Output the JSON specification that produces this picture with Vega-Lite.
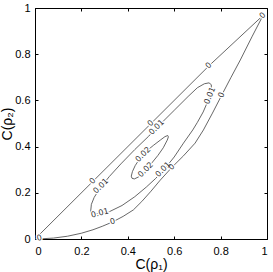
{
  "$schema": "https://vega.github.io/schema/vega-lite/v6.json",
  "width": 232,
  "height": 231,
  "autosize": {"type": "none"},
  "padding": {"left": 35, "top": 8, "right": 6, "bottom": 33},
  "background": "white",
  "config": {
    "view": {"stroke": "black", "strokeWidth": 1},
    "axis": {
      "grid": false,
      "domainColor": "black",
      "tickColor": "black",
      "tickSize": -3,
      "labelFont": "Liberation Sans",
      "labelFontSize": 11,
      "labelColor": "black",
      "titleFont": "Liberation Sans",
      "titleFontSize": 14,
      "titleFontWeight": "normal",
      "titleColor": "black"
    },
    "text": {"font": "DejaVu Sans", "fontSize": 8, "fill": "#333333", "color": "#333333"}
  },
  "datasets": {
    "zero": [
      {"x": 0, "y": 0}, {"x": 0.25, "y": 0.25}, {"x": 0.5, "y": 0.5}, {"x": 0.75, "y": 0.75}, {"x": 0.983, "y": 0.968},
      {"x": 0.935, "y": 0.875}, {"x": 0.885, "y": 0.775}, {"x": 0.845, "y": 0.7}, {"x": 0.805, "y": 0.623},
      {"x": 0.765, "y": 0.545}, {"x": 0.726, "y": 0.472}, {"x": 0.69, "y": 0.415}, {"x": 0.64, "y": 0.36},
      {"x": 0.59, "y": 0.31}, {"x": 0.54, "y": 0.255}, {"x": 0.5, "y": 0.207}, {"x": 0.46, "y": 0.162},
      {"x": 0.424, "y": 0.126}, {"x": 0.38, "y": 0.098}, {"x": 0.335, "y": 0.074}, {"x": 0.29, "y": 0.055},
      {"x": 0.25, "y": 0.04}, {"x": 0.2, "y": 0.025}, {"x": 0.14, "y": 0.012}, {"x": 0.08, "y": 0.004},
      {"x": 0.03, "y": 0.001}, {"x": 0, "y": 0}
    ],
    "c01": [
      {"x": 0.24, "y": 0.12}, {"x": 0.243, "y": 0.15}, {"x": 0.255, "y": 0.18}, {"x": 0.28, "y": 0.22},
      {"x": 0.32, "y": 0.27}, {"x": 0.37, "y": 0.325}, {"x": 0.43, "y": 0.387}, {"x": 0.49, "y": 0.445},
      {"x": 0.54, "y": 0.497}, {"x": 0.6, "y": 0.557}, {"x": 0.66, "y": 0.617}, {"x": 0.7, "y": 0.655},
      {"x": 0.73, "y": 0.672}, {"x": 0.75, "y": 0.676}, {"x": 0.76, "y": 0.668}, {"x": 0.76, "y": 0.65},
      {"x": 0.755, "y": 0.62}, {"x": 0.74, "y": 0.585}, {"x": 0.725, "y": 0.55}, {"x": 0.7, "y": 0.505},
      {"x": 0.68, "y": 0.472}, {"x": 0.64, "y": 0.415}, {"x": 0.6, "y": 0.355}, {"x": 0.56, "y": 0.305},
      {"x": 0.52, "y": 0.262}, {"x": 0.48, "y": 0.225}, {"x": 0.43, "y": 0.183}, {"x": 0.375, "y": 0.145},
      {"x": 0.32, "y": 0.118}, {"x": 0.28, "y": 0.11}, {"x": 0.255, "y": 0.108}, {"x": 0.242, "y": 0.112},
      {"x": 0.24, "y": 0.12}
    ],
    "c02": [
      {"x": 0.415, "y": 0.272}, {"x": 0.42, "y": 0.292}, {"x": 0.432, "y": 0.318}, {"x": 0.453, "y": 0.35},
      {"x": 0.48, "y": 0.38}, {"x": 0.51, "y": 0.405}, {"x": 0.54, "y": 0.428}, {"x": 0.56, "y": 0.443},
      {"x": 0.572, "y": 0.448}, {"x": 0.575, "y": 0.442}, {"x": 0.57, "y": 0.428}, {"x": 0.553, "y": 0.395},
      {"x": 0.53, "y": 0.362}, {"x": 0.5, "y": 0.325}, {"x": 0.47, "y": 0.29}, {"x": 0.445, "y": 0.268},
      {"x": 0.428, "y": 0.26}, {"x": 0.418, "y": 0.263}, {"x": 0.415, "y": 0.272}
    ],
    "labA": [
      {"label": "0", "x": 0.25, "y": 0.25}, {"label": "0", "x": 0.5, "y": 0.5}, {"label": "0", "x": 0.75, "y": 0.75},
      {"label": "0", "x": 0.982, "y": 0.966}, {"label": "0.01", "x": 0.285, "y": 0.228}, {"label": "0.01", "x": 0.525, "y": 0.482},
      {"label": "0.01", "x": 0.553, "y": 0.3}, {"label": "0.02", "x": 0.467, "y": 0.365}, {"label": "0.02", "x": 0.478, "y": 0.299},
      {"label": "0", "x": 0.59, "y": 0.31}
    ],
    "labB": [
      {"label": "0.01", "x": 0.28, "y": 0.11}, {"label": "0", "x": 0.335, "y": 0.074}, {"label": "0", "x": 0.019, "y": 0.003}
    ],
    "labC": [
      {"label": "0.01", "x": 0.755, "y": 0.62}, {"label": "0", "x": 0.805, "y": 0.623}
    ]
  },
  "layer": [
    {
      "data": {"name": "zero"},
      "mark": {"type": "line", "color": "#404040", "strokeWidth": 0.8},
      "encoding": {
        "x": {"field": "x", "type": "quantitative", "scale": {"domain": [0, 1], "nice": false},
              "axis": {"values": [0, 0.2, 0.4, 0.6, 0.8, 1], "format": "~g", "title": "C(ρ₁)", "labelPadding": 9, "titlePadding": 1}},
        "y": {"field": "y", "type": "quantitative", "scale": {"domain": [0, 1], "nice": false},
              "axis": {"values": [0, 0.2, 0.4, 0.6, 0.8, 1], "format": "~g", "title": "C(ρ₂)", "labelPadding": 8, "titlePadding": 0}},
        "order": {"value": null}
      }
    },
    {
      "data": {"name": "c01"},
      "mark": {"type": "line", "color": "#404040", "strokeWidth": 0.8},
      "encoding": {
        "x": {"field": "x", "type": "quantitative", "axis": {"orient": "top", "values": [0, 0.2, 0.4, 0.6, 0.8, 1], "labels": false, "title": null, "domain": false}},
        "y": {"field": "y", "type": "quantitative", "axis": {"orient": "right", "values": [0, 0.2, 0.4, 0.6, 0.8, 1], "labels": false, "title": null, "domain": false}},
        "order": {"value": null}
      }
    },
    {
      "data": {"name": "c02"},
      "mark": {"type": "line", "color": "#404040", "strokeWidth": 0.8},
      "encoding": {
        "x": {"field": "x", "type": "quantitative", "axis": null},
        "y": {"field": "y", "type": "quantitative", "axis": null},
        "order": {"value": null}
      }
    },
    {
      "data": {"name": "labA"},
      "layer": [
        {"mark": {"type": "text", "angle": -45, "stroke": "white", "strokeWidth": 2.5, "fill": "white"}},
        {"mark": {"type": "text", "angle": -45, "fill": "#333333", "stroke": null}}
      ],
      "encoding": {
        "x": {"field": "x", "type": "quantitative", "axis": null},
        "y": {"field": "y", "type": "quantitative", "axis": null},
        "text": {"field": "label"}
      }
    },
    {
      "data": {"name": "labB"},
      "layer": [
        {"mark": {"type": "text", "angle": -15, "stroke": "white", "strokeWidth": 2.5, "fill": "white"}},
        {"mark": {"type": "text", "angle": -15, "fill": "#333333", "stroke": null}}
      ],
      "encoding": {
        "x": {"field": "x", "type": "quantitative", "axis": null},
        "y": {"field": "y", "type": "quantitative", "axis": null},
        "text": {"field": "label"}
      }
    },
    {
      "data": {"name": "labC"},
      "layer": [
        {"mark": {"type": "text", "angle": -68, "stroke": "white", "strokeWidth": 2.5, "fill": "white"}},
        {"mark": {"type": "text", "angle": -68, "fill": "#333333", "stroke": null}}
      ],
      "encoding": {
        "x": {"field": "x", "type": "quantitative", "axis": null},
        "y": {"field": "y", "type": "quantitative", "axis": null},
        "text": {"field": "label"}
      }
    }
  ],
  "resolve": {"axis": {"x": "independent", "y": "independent"}}
}
